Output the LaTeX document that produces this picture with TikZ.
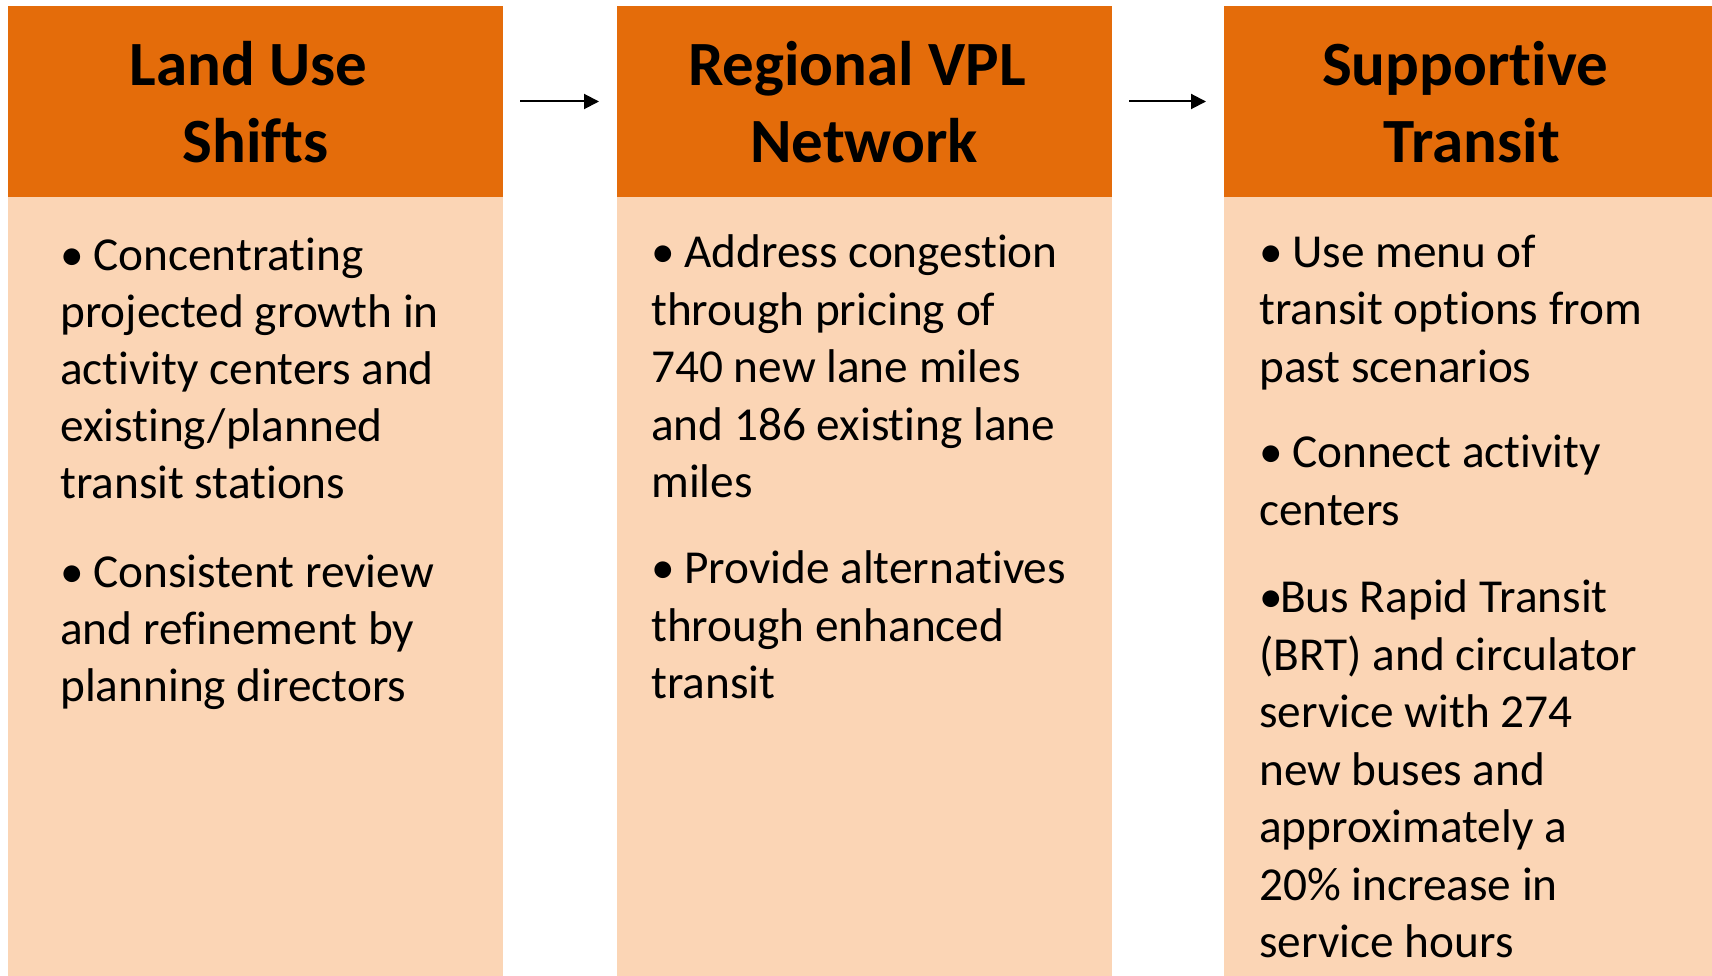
\documentclass[tikz,border=0pt]{standalone}
\usepackage{fontspec}
\setmainfont{Carlito}[Ligatures={NoCommon,NoContextual,NoRare},Contextuals=NoAlternate]
\usetikzlibrary{arrows.meta}
\definecolor{hdr}{HTML}{E46C0A}
\definecolor{bdy}{HTML}{FBD5B5}
\newcommand{\bul}{\makebox[33pt][l]{•}}
\newcommand{\bulns}{\makebox[21pt][l]{•}}
\newcommand{\nl}{\kern0pt }
\begin{document}
\begin{tikzpicture}[x=1pt,y=-1pt,
  hdrbox/.style={fill=hdr, draw=none, inner sep=0pt, outer sep=0pt, minimum width=495pt, minimum height=191pt, anchor=north west},
  bdybox/.style={fill=bdy, draw=none, inner sep=0pt, outer sep=0pt, minimum width=495pt, minimum height=785pt, anchor=north west},
  head/.style={font=\fontsize{63}{76}\selectfont\bfseries, inner sep=0pt, anchor=base},
  body/.style={font=\fontsize{47.3}{57}\selectfont, inner sep=0pt, anchor=base west},
  arr/.style={draw=black, line width=2pt, -{Triangle[length=15pt,width=15pt]}, shorten <=17pt, shorten >=18pt}]
\useasboundingbox (0,0) rectangle (1712,976);
\fill[white] (0,0) rectangle (1712,976);
% boxes
\node[hdrbox] (h1) at (8,6) {};
\node[bdybox] (b1) at (8,197) {};
\node[hdrbox] (h2) at (617,6) {};
\node[bdybox] (b2) at (617,197) {};
\node[hdrbox] (h3) at (1224,6) {};
\node[bdybox] (b3) at (1224,197) {};
% arrows
\draw[arr] (h1.east) -- (h2.west);
\draw[arr] (h2.east) -- (h3.west);
% headers
\node[head] (t1a) at (248.5,86) {Land Use};
\node[head] (t1b) at (255.5,163) {Shifts};
\node[head] (t2a) at (857,86) {Regional VPL};
\node[head] (t2b) at (864,163) {Network};
\node[head] (t3a) at (1465,86) {Support\nl ive};
\node[head] (t3b) at (1472,163) {Transit};
% column 1
\node[body] (c1l1) at (60,270) {\bul Concentrat\nl ing};
\node[body] (c1l2) at (60,327) {projected growth in};
\node[body] (c1l3) at (60,384) {act\nl ivity centers and};
\node[body] (c1l4) at (60,441) {exist\nl ing/planned};
\node[body] (c1l5) at (60,498) {transit stat\nl ions};
\node[body] (c1l6) at (60,587) {\bul Consistent review};
\node[body] (c1l7) at (60,644) {and refinement by};
\node[body] (c1l8) at (60,701) {planning directors};
% column 2
\node[body] (c2l1) at (651,268) {\bul Address congest\nl ion};
\node[body] (c2l2) at (651,325) {through pricing of};
\node[body] (c2l3) at (651,382) {740 new lane miles};
\node[body] (c2l4) at (651,440) {and 186 exist\nl ing lane};
\node[body] (c2l5) at (651,497) {miles};
\node[body] (c2l6) at (651,583) {\bul Provide alternat\nl ives};
\node[body] (c2l7) at (651,641) {through enhanced};
\node[body] (c2l8) at (651,698) {transit};
% column 3
\node[body] (c3l1) at (1259,267) {\bul Use menu of};
\node[body] (c3l2) at (1259,324) {transit opt\nl ions from};
\node[body] (c3l3) at (1259,382) {past scenarios};
\node[body] (c3l4) at (1259,467) {\bul Connect act\nl ivity};
\node[body] (c3l5) at (1259,525) {centers};
\node[body] (c3l6) at (1259,612) {\bulns Bus Rapid Transit};
\node[body] (c3l7) at (1259,670) {(BRT) and circulator};
\node[body] (c3l8) at (1259,727) {service with 274};
\node[body] (c3l9) at (1259,785) {new buses and};
\node[body] (c3l10) at (1259,842) {approximately a};
\node[body] (c3l11) at (1259,900) {20\% increase in};
\node[body] (c3l12) at (1259,957) {service hours};
\end{tikzpicture}
\end{document}
